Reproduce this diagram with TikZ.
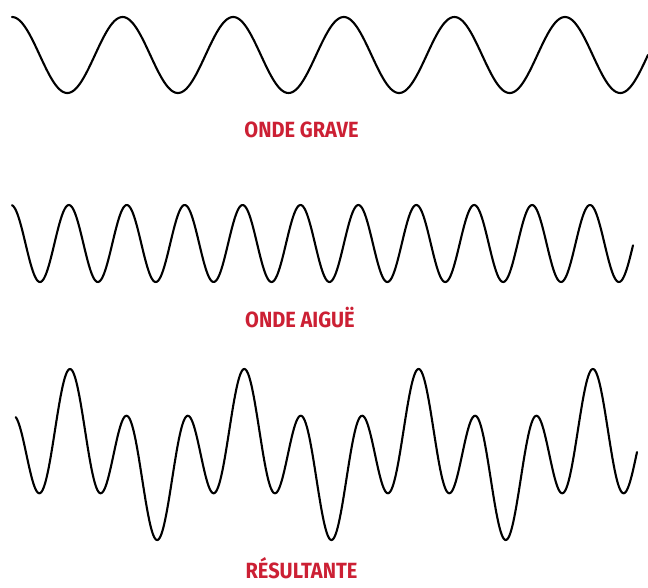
\documentclass[tikz,border=0pt]{standalone}
\usepackage{fontspec}
\newfontfamily\labfont[FakeStretch=0.91]{Fira Sans}
\definecolor{labred}{RGB}{204,32,52}
\begin{document}
\begin{tikzpicture}[x=1pt,y=-1pt,
  wave/.style={line width=2.1pt, black, line join=round, line cap=round},
  lab/.style={text=labred, font=\labfont\bfseries\fontsize{22}{22}\selectfont, anchor=base, inner sep=0pt}]
\useasboundingbox (0,0) rectangle (648,587);
\fill[white] (0,0) rectangle (648,587);
% onde grave
\draw[wave] plot[domain=12:648, samples=500, smooth] ({\x},{55-38*cos(3.25497*(\x-12))});
\node[lab] (grave) at (301.5,137.5) {ONDE GRAVE};
% onde aigue
\draw[wave] plot[domain=12:633, samples=600, smooth] ({\x},{243.5-38.5*cos(6.21762*(\x-11))});
\node[lab] (aigue) at (300,327.5) {ONDE AIGUË};
% resultante
\draw[wave] plot[domain=15.7:637, samples=800, smooth] ({\x},{454.5-53.8*cos(6.19621*(\x-70))-31.7*cos(2.06540*(\x-70))});
\node[lab] (result) at (301.5,578.5) {RÉSULTANTE};
\end{tikzpicture}
\end{document}
